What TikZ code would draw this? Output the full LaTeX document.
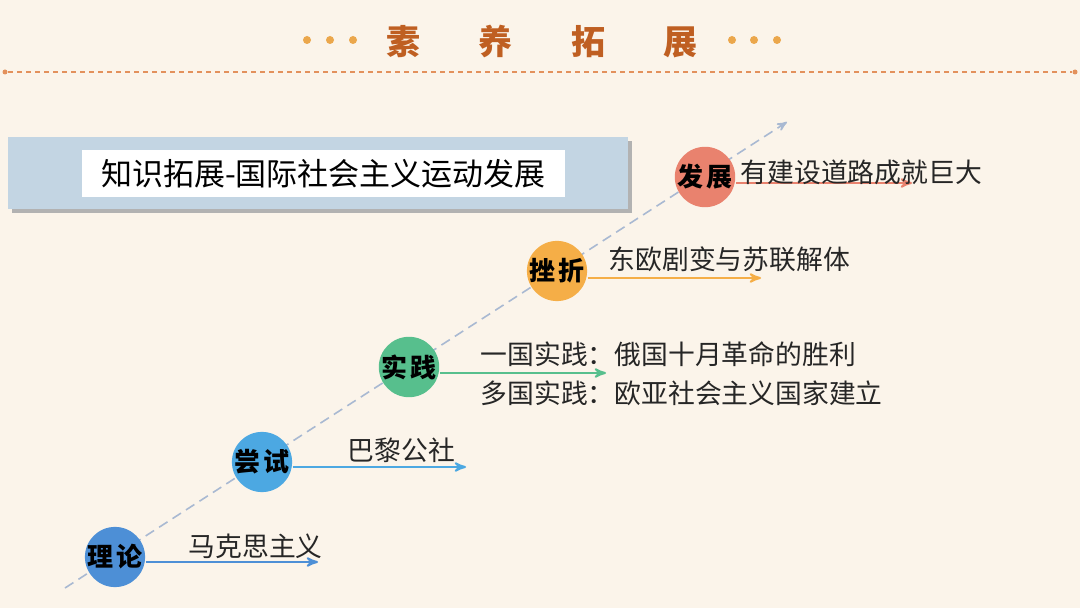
\documentclass[tikz,border=0pt]{standalone}
\usepackage{fontspec}
\setmainfont{Noto Sans CJK SC}
\usepackage{tikz}
\usetikzlibrary{arrows}

\definecolor{paper}{HTML}{FBF4EA}
\definecolor{titlebrown}{HTML}{BF5F22}
\definecolor{dotorange}{HTML}{EBA74C}
\definecolor{ruleorange}{HTML}{E3915C}
\definecolor{boxblue}{HTML}{C3D5E3}
\definecolor{pathgray}{HTML}{A9B9D2}
\definecolor{cTheory}{HTML}{4D8FD6}
\definecolor{cTrial}{HTML}{4CA8E2}
\definecolor{cPractice}{HTML}{57BF8D}
\definecolor{cSetback}{HTML}{F5AE47}
\definecolor{cGrowth}{HTML}{E9826E}

\begin{document}
\begin{tikzpicture}[x=0.5pt,y=-0.5pt,>=stealth',semithick]
\tikzstyle{stage}=[circle,minimum size=30pt,inner sep=0pt,text=black,font=\fontsize{13}{15}\selectfont\bfseries]
\tikzstyle{event}=[anchor=west,inner sep=0pt,text=black!85,font=\fontsize{13.4}{15}\selectfont]
\tikzstyle{lead}=[->,line width=1pt]

\useasboundingbox (0,0) rectangle (1080,608);
\fill[paper] (0,0) rectangle (1080,608);

% heading
\foreach \x in {307,330,353,732,754,777}
  \fill[dotorange] (\x,40) circle (4);
\foreach \ch/\x in {素/403,养/495,拓/588,展/680}
  \node[text=titlebrown,font=\fontsize{17}{19}\selectfont\bfseries] (t\x) at (\x,42) {\ch};
\draw[ruleorange,line width=0.8pt,dash pattern=on 2.5pt off 2pt] (8,72) -- (1072,72);
\fill[ruleorange] (5,72) circle (2.5) (1075,72) circle (2.5);

% caption box
\fill[gray!60] (12,141) rectangle (632,213);
\fill[boxblue] (8,137) rectangle (628,209);
\node[fill=white,minimum width=241.5pt,minimum height=23.5pt,inner sep=0pt,
      font=\fontsize{15.5}{17}\selectfont] (cap) at (323.5,173.5) {知识拓展-国际社会主义运动发展};

% diagonal path
\coordinate (d0) at (65,588);
\coordinate (d1) at (787,122);
\draw[pathgray,->,line width=0.8pt,dash pattern=on 5pt off 3pt] (d0) -- (d1);

% stages
\node[stage,fill=cTheory]   (L1) at (115,557) {理\hspace{1.5pt}论};
\node[stage,fill=cTrial]    (L2) at (262,462) {尝\hspace{1.5pt}试};
\node[stage,fill=cPractice] (L3) at (409,367) {实\hspace{1.5pt}践};
\node[stage,fill=cSetback]  (L4) at (557,271) {挫\hspace{1.5pt}折};
\node[stage,fill=cGrowth]   (L5) at (705,177) {发\hspace{1.5pt}展};

% leads
\coordinate (e1) at (318,562);
\coordinate (e2) at (466,467);
\coordinate (e3) at (606,373);
\coordinate (e4) at (761,278);
\coordinate (e5) at (912,183);
\draw[lead,cTheory]   (L1.east |- e1) -- (e1);
\draw[lead,cTrial]    (L2.east |- e2) -- (e2);
\draw[lead,cPractice] (L3.east |- e3) -- (e3);
\draw[lead,cSetback]  (L4.east |- e4) -- (e4);
\draw[lead,cGrowth]   (L5.east |- e5) -- (e5);

% events
\node[event] (m1) at (188,546) {马克思主义};
\node[event] (m2) at (347,450) {巴黎公社};
\node[event] (m3) at (480,354) {一国实践：俄国十月革命的胜利};
\node[event] (m4) at (480,393) {多国实践：欧亚社会主义国家建立};
\node[event] (m5) at (608,259) {东欧剧变与苏联解体};
\node[event] (m6) at (740,172) {有建设道路成就巨大};
\end{tikzpicture}
\end{document}
